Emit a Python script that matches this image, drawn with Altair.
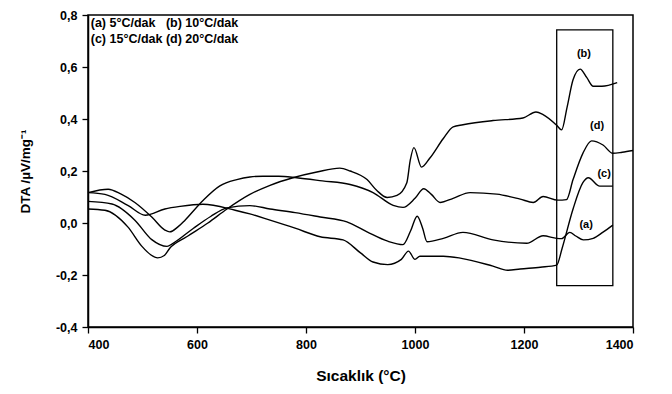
import altair as alt
import pandas as pd

# (a) 5 °C/dak
a_T = [400, 444, 486, 517, 545, 556, 593, 625, 655, 697, 734, 780, 826, 875, 912, 950, 978, 992, 1004, 1014, 1022, 1052, 1088, 1143, 1205, 1235, 1260, 1269, 1284, 1295, 1309, 1327, 1345, 1363]
a_V = [0.083, 0.073, 0.011, -0.064, -0.09, -0.078, -0.021, 0.025, 0.058, 0.067, 0.054, 0.04, 0.023, 0.004, -0.034, -0.07, -0.083, -0.03, 0.026, -0.02, -0.072, -0.059, -0.036, -0.065, -0.078, -0.049, -0.059, -0.06, -0.036, -0.05, -0.065, -0.059, -0.035, -0.008]

# (b) 10 °C/dak
b_T = [400, 431, 473, 499, 515, 528, 540, 550, 581, 620, 655, 697, 734, 776, 820, 862, 881, 912, 930, 949, 967, 985, 991, 998, 1012, 1027, 1052, 1070, 1088, 1143, 1198, 1222, 1235, 1260, 1269, 1279, 1290, 1303, 1315, 1327, 1343, 1371]
b_V = [0.054, 0.049, -0.015, -0.09, -0.122, -0.134, -0.125, -0.097, -0.053, 0.0, 0.054, 0.11, 0.145, 0.174, 0.196, 0.211, 0.2, 0.167, 0.125, 0.098, 0.106, 0.155, 0.238, 0.29, 0.215, 0.249, 0.325, 0.37, 0.378, 0.394, 0.404, 0.427, 0.417, 0.376, 0.358, 0.445, 0.551, 0.592, 0.56, 0.526, 0.526, 0.54]

# (c) 15 °C/dak
c_T = [400, 431, 473, 505, 541, 569, 611, 670, 697, 734, 780, 826, 868, 900, 923, 950, 975, 988, 1000, 1009, 1052, 1083, 1143, 1170, 1193, 1230, 1260, 1270, 1290, 1308, 1318, 1339, 1363]
c_V = [0.117, 0.11, 0.068, 0.03, 0.054, 0.064, 0.072, 0.049, 0.035, 0.011, -0.02, -0.053, -0.065, -0.115, -0.15, -0.16, -0.14, -0.108, -0.14, -0.128, -0.128, -0.135, -0.166, -0.182, -0.177, -0.17, -0.162, -0.097, 0.054, 0.155, 0.174, 0.142, 0.142]

# (d) 20 °C/dak
d_T = [400, 437, 460, 486, 517, 541, 550, 565, 578, 611, 642, 673, 697, 721, 750, 783, 830, 881, 923, 960, 978, 1000, 1016, 1030, 1046, 1070, 1101, 1150, 1193, 1217, 1235, 1262, 1278, 1290, 1308, 1324, 1345, 1363, 1380, 1400]
d_V = [0.117, 0.13, 0.112, 0.079, 0.023, -0.027, -0.034, -0.015, 0.011, 0.087, 0.143, 0.167, 0.177, 0.18, 0.18, 0.174, 0.162, 0.148, 0.117, 0.068, 0.06, 0.095, 0.132, 0.11, 0.079, 0.095, 0.117, 0.111, 0.092, 0.079, 0.102, 0.088, 0.09, 0.167, 0.268, 0.316, 0.3, 0.268, 0.272, 0.279]

series = {"a": (a_T, a_V), "b": (b_T, b_V), "c": (c_T, c_V), "d": (d_T, d_V)}

# curve labels inside the box
lab_text = ["(b)", "(d)", "(c)", "(a)"]
lab_T = [1310, 1334, 1347, 1314]
lab_V = [0.649, 0.374, 0.19, -0.008]

# heating-rate note
note_text = ["(a) 5°C/dak\u00a0\u00a0\u00a0(b) 10°C/dak", "(c) 15°C/dak (d) 20°C/dak"]
note_T = [405, 405]
note_V = [0.77, 0.707]

# highlight box
box_T = [1260]
box_T2 = [1363]
box_V = [-0.241]
box_V2 = [0.743]

rows = []
for k, (ts, vs) in series.items():
    for t, v in zip(ts, vs):
        rows.append({"s": k, "T": t, "V": v})
df = pd.DataFrame(rows)

FONT = "Liberation Sans"

xscale = alt.Scale(domain=[400, 1400], nice=False, zero=False)
yscale = alt.Scale(domain=[-0.4, 0.8], nice=False, zero=False)

lines = alt.Chart(df).mark_line(
    interpolate="monotone", color="black", strokeWidth=1.4
).encode(
    x=alt.X("T:Q", scale=xscale, title="Sıcaklık (°C)",
            axis=alt.Axis(values=[400, 600, 800, 1000, 1200, 1400], format="d")),
    y=alt.Y("V:Q", scale=yscale, title="DTA /µV/mg⁻¹",
            axis=alt.Axis(values=[-0.4, -0.2, 0.0, 0.2, 0.4, 0.6, 0.8],
                          labelExpr="replace(replace(format(datum.value, '.1f'), '.', ','), '−', '-')",
                          titleX=-56)),
    detail="s:N",
    order="T:Q",
)

box = alt.Chart(pd.DataFrame({"x": box_T, "x2": box_T2, "y": box_V, "y2": box_V2})).mark_rect(
    filled=False, stroke="black", strokeWidth=1.3
).encode(x="x:Q", x2="x2:Q", y="y:Q", y2="y2:Q")

labels = alt.Chart(pd.DataFrame({"t": lab_text, "x": lab_T, "y": lab_V})).mark_text(
    font=FONT, fontWeight="bold", fontSize=11, color="black"
).encode(x="x:Q", y="y:Q", text="t:N")

note = alt.Chart(pd.DataFrame({"t": note_text, "x": note_T, "y": note_V})).mark_text(
    font=FONT, fontWeight="bold", fontSize=12.5, color="black", align="left", baseline="middle"
).encode(x="x:Q", y="y:Q", text="t:N")

chart = alt.layer(lines, box, labels, note).properties(
    width=545, height=312,
    autosize=alt.AutoSizeParams(type="none"),
    padding={"left": 80, "top": 7, "right": 30, "bottom": 60},
    background="white",
).configure_view(
    stroke="black", strokeWidth=1.5
).configure_axis(
    grid=False,
    domainColor="black", domainWidth=1.5,
    tickColor="black", tickWidth=1.3, tickSize=6,
    labelFont=FONT, labelFontWeight="bold", labelFontSize=12.5, labelColor="black",
    titleFont=FONT, titleFontWeight="bold", titleColor="black",
    labelPadding=5,
).configure_axisX(
    titleFontSize=15.5, titlePadding=18,
).configure_axisY(
    titleFontSize=13.5,
)

chart.save("out.html", embed_options={"renderer": "svg", "actions": False})
